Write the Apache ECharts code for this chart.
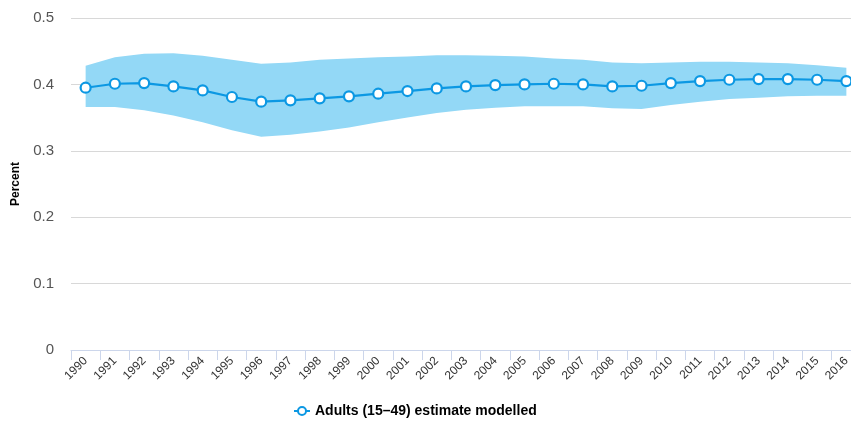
<!DOCTYPE html>
<html>
<head>
<meta charset="utf-8">
<script src="https://cdn.jsdelivr.net/npm/echarts@6/dist/echarts.min.js"></script>
<style>
  html, body { margin: 0; padding: 0; background: #fff; overflow: hidden; }
  /* drawing surface is a bit wider than the window; the last column runs off the edge */
  #chart { width: 862px; height: 426px; }
</style>
</head>
<body>
<div id="chart"></div>
<script>
// Years on the category axis
const years = ['1990','1991','1992','1993','1994','1995','1996','1997','1998','1999',
  '2000','2001','2002','2003','2004','2005','2006','2007','2008','2009',
  '2010','2011','2012','2013','2014','2015','2016'];

// Modelled estimate (percent)
const estimate = [0.395, 0.401, 0.402, 0.397, 0.391, 0.381, 0.374, 0.376, 0.379, 0.382,
  0.386, 0.390, 0.394, 0.397, 0.399, 0.400, 0.401, 0.400, 0.397, 0.398,
  0.402, 0.405, 0.407, 0.408, 0.408, 0.407, 0.405];

// Uncertainty bounds
const lowerBound = [0.366, 0.366, 0.361, 0.353, 0.343, 0.331, 0.321, 0.324, 0.329, 0.335,
  0.343, 0.350, 0.357, 0.362, 0.365, 0.367, 0.367, 0.367, 0.364, 0.363,
  0.369, 0.374, 0.378, 0.380, 0.382, 0.383, 0.383];
const upperBound = [0.428, 0.441, 0.446, 0.447, 0.443, 0.437, 0.431, 0.433, 0.437, 0.439,
  0.441, 0.442, 0.444, 0.444, 0.443, 0.442, 0.439, 0.437, 0.433, 0.432,
  0.433, 0.434, 0.434, 0.433, 0.432, 0.429, 0.425];

const yTicks = [0, 0.1, 0.2, 0.3, 0.4, 0.5];
const seriesName = 'Adults (15\u201349) estimate modelled';

const bandWidth = upperBound.map((u, i) => +(u - lowerBound[i]).toFixed(4));

const FONT = '"Liberation Sans", Arial, sans-serif';
const chart = echarts.init(document.getElementById('chart'), null, { renderer: 'canvas' });

chart.setOption({
  animation: false,
  textStyle: { fontFamily: FONT },
  grid: { left: 71, right: 1, top: 18, bottom: 76, containLabel: false },
  legend: {
    data: [seriesName],
    bottom: 3,
    left: 288,
    itemWidth: 16,
    itemHeight: 10,
    itemGap: 6,
    textStyle: { fontFamily: FONT, fontSize: 14, fontWeight: 'bold', color: '#000' }
  },
  xAxis: {
    type: 'category',
    data: years,
    boundaryGap: true,
    axisLine: { lineStyle: { color: '#ccd6eb', width: 1 } },
    axisTick: { show: true, length: 10, lineStyle: { color: '#ccd6eb' } },
    axisLabel: {
      interval: 0, rotate: 45, fontSize: 12, color: '#333', margin: 9,
      fontFamily: FONT
    },
    splitLine: { show: false }
  },
  yAxis: {
    type: 'value',
    min: yTicks[0],
    max: yTicks[yTicks.length - 1],
    interval: 0.1,
    name: 'Percent',
    nameLocation: 'middle',
    nameGap: 49,
    nameTextStyle: { fontFamily: FONT, fontSize: 12, fontWeight: 'bold', color: '#000' },
    axisLine: { show: false },
    axisTick: { show: false },
    axisLabel: {
      fontSize: 15, color: '#555', margin: 17, fontFamily: FONT,
      formatter: v => String(+v.toFixed(1))
    },
    splitLine: { lineStyle: { color: '#d8d8d8', width: 1 } }
  },
  series: [
    {
      name: 'lower',
      type: 'line',
      data: lowerBound,
      stack: 'band',
      symbol: 'none',
      lineStyle: { opacity: 0 },
      silent: true,
      z: 1
    },
    {
      name: 'range',
      type: 'line',
      data: bandWidth,
      stack: 'band',
      symbol: 'none',
      lineStyle: { opacity: 0 },
      areaStyle: { color: '#93d8f6', opacity: 1 },
      silent: true,
      z: 1
    },
    {
      name: seriesName,
      type: 'line',
      data: estimate,
      symbol: 'circle',
      symbolSize: 10,
      itemStyle: { color: '#fff', borderColor: '#0c98e3', borderWidth: 2.2 },
      lineStyle: { color: '#0c98e3', width: 2.2 },
      z: 3
    }
  ]
});
</script>
</body>
</html>
